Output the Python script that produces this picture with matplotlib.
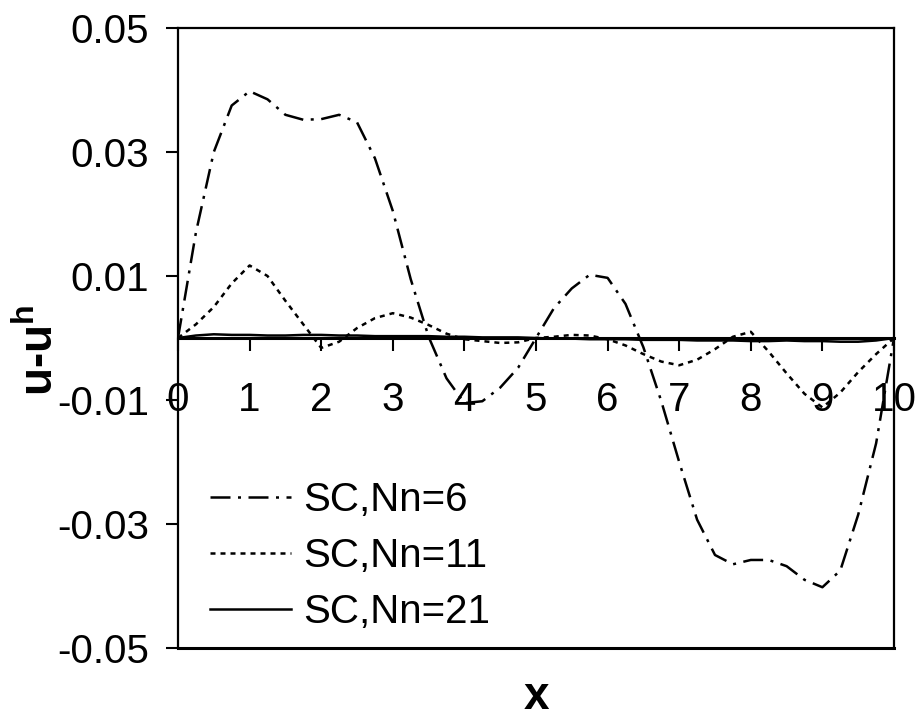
import numpy as np
import matplotlib
matplotlib.use("Agg")
import matplotlib.pyplot as plt

plt.rcParams['font.family'] = ['Liberation Sans', 'DejaVu Sans']

# ---- data ----
x = [0, 0.25, 0.5, 0.75, 1.0, 1.25, 1.5, 1.75, 2.0, 2.25, 2.5, 2.75, 3.0, 3.25,
     3.5, 3.75, 4.0, 4.25, 4.5, 4.75, 5.0, 5.25, 5.5, 5.75, 6.0, 6.25, 6.5, 6.75,
     7.0, 7.25, 7.5, 7.75, 8.0, 8.25, 8.5, 8.75, 9.0, 9.25, 9.5, 9.75, 10.0]

err_nn6 = [0.0, 0.0170, 0.0300, 0.0375, 0.0398, 0.0385, 0.0360, 0.0352, 0.0353,
           0.0360, 0.0348, 0.0290, 0.0205, 0.0095, 0.0002, -0.0065, -0.0105,
           -0.0102, -0.0080, -0.0048, 0.0, 0.0048, 0.0080, 0.0102, 0.0097,
           0.0055, -0.0015, -0.0102, -0.0200, -0.0293, -0.0350, -0.0365,
           -0.0358, -0.0358, -0.0368, -0.0390, -0.0402, -0.0375, -0.0285,
           -0.0170, 0.0]

err_nn11 = [0.0, 0.0022, 0.0050, 0.0088, 0.0117, 0.0100, 0.0060, 0.0022, -0.0016,
            -0.0006, 0.0016, 0.0032, 0.0040, 0.0033, 0.0021, 0.0007, -0.0002,
            -0.0005, -0.0008, -0.0007, 0.0, 0.0002, 0.0005, 0.0004, -0.0002,
            -0.0012, -0.0026, -0.0038, -0.0044, -0.0035, -0.0018, 0.0002,
            0.0010, -0.0022, -0.0057, -0.0090, -0.0112, -0.0088, -0.0055,
            -0.0026, 0.0]

err_nn21 = [0.0, 0.0004, 0.0006, 0.0005, 0.0005, 0.0004, 0.0004, 0.0005, 0.0005,
            0.0004, 0.0004, 0.0003, 0.0003, 0.0003, 0.0003, 0.0002, 0.0002,
            0.0001, 0.0001, 0.0001, 0.0, -0.0001, -0.0001, -0.0002, -0.0002,
            -0.0002, -0.0003, -0.0003, -0.0003, -0.0004, -0.0004, -0.0004,
            -0.0005, -0.0005, -0.0004, -0.0005, -0.0005, -0.0006, -0.0006,
            -0.0004, 0.0]

series_labels = ['SC,Nn=6', 'SC,Nn=11', 'SC,Nn=21']

x_ticks = [0, 1, 2, 3, 4, 5, 6, 7, 8, 9, 10]
x_tick_labels = ['0', '1', '2', '3', '4', '5', '6', '7', '8', '9', '10']
y_ticks = [-0.05, -0.03, -0.01, 0.01, 0.03, 0.05]
y_tick_labels = ['-0.05', '-0.03', '-0.01', '0.01', '0.03', '0.05']

# ---- plot ----
fig = plt.figure(figsize=(9.22, 7.11), dpi=100)
ax = fig.add_axes([178 / 922, 1 - 648 / 711, 716 / 922, 620 / 711])

ax.plot(x, err_nn6, color='black', lw=1.8, dashes=[8, 3, 1.2, 3],
        label=series_labels[0])
ax.plot(x, err_nn11, color='black', lw=1.8, dashes=[2, 2],
        label=series_labels[1])
ax.plot(x, err_nn21, color='black', lw=1.8, label=series_labels[2])

ax.set_xlim(0, 10)
ax.set_ylim(-0.05, 0.05)

# x axis crosses at y=0, keep the box bottom as a plain line
ax.spines['bottom'].set_position(('data', 0))
ax.axhline(-0.05, color='black', lw=2.2, clip_on=False)
for s in ['left', 'right', 'top', 'bottom']:
    ax.spines[s].set_linewidth(1.6)
ax.spines['bottom'].set_linewidth(2.2)

ax.set_xticks(x_ticks)
ax.set_xticklabels(x_tick_labels)
ax.set_yticks(y_ticks)
ax.set_yticklabels(y_tick_labels)
ax.tick_params(axis='both', direction='out', length=9, width=1.5, labelsize=29)
ax.tick_params(axis='x', pad=22)
ax.tick_params(axis='y', pad=12)

ax.set_xlabel('x', fontsize=33, fontweight='bold')
ax.xaxis.set_label_coords(0.5, -0.044)
ax.set_ylabel(r'u-u$^{\mathregular{h}}$', fontsize=33, fontweight='bold')
ax.yaxis.set_label_coords(-0.16, 0.48)

ax.legend(loc='center left', bbox_to_anchor=(0.045, 0.148), frameon=False,
          fontsize=29, handlelength=2.0, handletextpad=0.3, labelspacing=0.45,
          borderpad=0, borderaxespad=0)

fig.savefig('out.png', dpi=100)
